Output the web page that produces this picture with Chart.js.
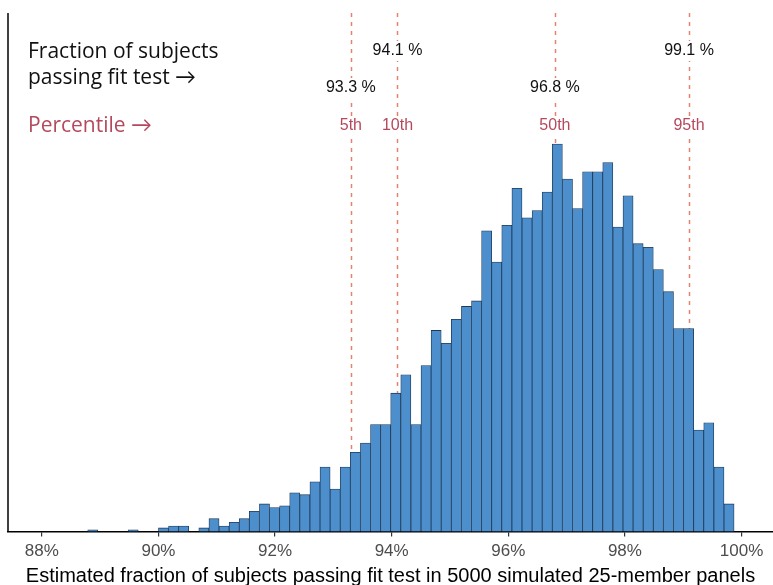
<!DOCTYPE html>
<html>
<head>
<meta charset="utf-8">
<script src="https://cdn.jsdelivr.net/npm/chart.js@4"></script>
<style>
  body { margin: 0; background: #fff; }
  #wrap { width: 773px; height: 585px; }
</style>
</head>
<body>
<div id="wrap"><canvas id="myChart" width="773" height="585"></canvas></div>
<script>
// bin centres (fraction passing, %), bin width ~0.173 %
const binCenters = [
  88.874, 89.047, 89.221, 89.394, 89.567, 89.740, 89.913,
  90.087, 90.260, 90.433, 90.606, 90.779, 90.953, 91.126, 91.299, 91.472, 91.645,
  91.819, 91.992, 92.165, 92.338, 92.511, 92.685, 92.858, 93.031, 93.204, 93.377,
  93.551, 93.724, 93.897, 94.070, 94.243, 94.417, 94.590, 94.763, 94.936, 95.109,
  95.283, 95.456, 95.629, 95.802, 95.975, 96.149, 96.322, 96.495, 96.668, 96.841,
  97.015, 97.188, 97.361, 97.534, 97.707, 97.881, 98.054, 98.227, 98.400, 98.573,
  98.747, 98.920, 99.093, 99.266, 99.439, 99.613, 99.786
];
// number of simulated panels in each bin
const counts = [
  1, 0, 0, 0, 1, 0, 0,
  2, 3, 3, 0, 2, 7, 3, 5, 7, 11,
  15, 13, 14, 21, 20, 27, 35, 23, 35, 43,
  48, 58, 58, 75, 85, 58, 90, 109, 102, 115,
  122, 125, 163, 146, 166, 186, 170, 174, 184, 210,
  191, 175, 195, 195, 200, 165, 182, 156, 154, 142,
  130, 110, 110, 55, 59, 35, 15
];
const tickValues = [88, 90, 92, 94, 96, 98, 100];

const percentileValues = [93.3, 94.1, 96.8, 99.1];
const percentileNames = ['5th', '10th', '50th', '95th'];
const percentileLabels = ['93.3 %', '94.1 %', '96.8 %', '99.1 %'];

const rose = '#b5485c';
const dashColor = '#e2826f';
const labelFont = '16px "Liberation Sans", Arial, sans-serif';

function labelWithBg(c, text, x, y, font, color) {
  c.font = font;
  const w = c.measureText(text).width;
  c.fillStyle = '#fff';
  c.fillRect(x - w / 2 - 2, y - 10, w + 4, 20);
  c.fillStyle = color;
  c.textAlign = 'center';
  c.textBaseline = 'middle';
  c.fillText(text, x, y);
}

const percentilePlugin = {
  id: 'percentiles',
  beforeDatasetsDraw(chart) {
    const c = chart.ctx;
    const area = chart.chartArea;
    const xs = chart.scales.x;
    c.save();
    // dashed percentile lines, behind the bars
    c.strokeStyle = dashColor;
    c.lineWidth = 1.5;
    c.setLineDash([4, 5]);
    percentileValues.forEach(v => {
      const px = Math.round(xs.getPixelForValue(v)) + 0.5;
      c.beginPath();
      c.moveTo(px, area.top);
      c.lineTo(px, area.bottom);
      c.stroke();
    });
    c.setLineDash([]);
    // left axis line
    c.strokeStyle = '#000';
    c.lineWidth = 1.5;
    c.beginPath();
    c.moveTo(area.left, area.top);
    c.lineTo(area.left, area.bottom);
    c.stroke();
    c.restore();
  },
  afterDatasetsDraw(chart) {
    const c = chart.ctx;
    const xs = chart.scales.x;
    c.save();
    percentileValues.forEach((v, i) => {
      const px = xs.getPixelForValue(v);
      const rowY = i % 2 === 0 ? 88 : 51;
      labelWithBg(c, percentileLabels[i], px, rowY, labelFont, '#111');
      labelWithBg(c, percentileNames[i], px, 126, labelFont, rose);
    });
    // side notes
    c.textAlign = 'left';
    c.textBaseline = 'middle';
    c.font = '21px "Open Sans", Lato, sans-serif';
    c.fillStyle = '#111';
    c.fillText('Fraction of subjects', 28, 52);
    c.fillText('passing fit test \u2192', 28, 78);
    c.fillStyle = rose;
    c.fillText('Percentile \u2192', 28, 126);
    c.restore();
  }
};

const ctx = document.getElementById('myChart');

new Chart(ctx, {
  type: 'bar',
  data: {
    datasets: [{
      data: binCenters.map((b, i) => ({ x: b, y: counts[i] })),
      backgroundColor: '#4d8fcd',
      borderColor: '#1e3a58',
      borderWidth: 0.8,
      borderSkipped: 'start',
      barPercentage: 1,
      categoryPercentage: 1
    }]
  },
  options: {
    responsive: false,
    devicePixelRatio: 1,
    animation: false,
    layout: { padding: { left: 8, top: 13, right: 0, bottom: 0 } },
    plugins: {
      legend: { display: false },
      tooltip: { enabled: false }
    },
    scales: {
      x: {
        type: 'linear',
        min: 87.42,
        max: 100.54,
        offset: false,
        afterBuildTicks: s => { s.ticks = tickValues.map(v => ({ value: v })); },
        grid: {
          offset: false,
          drawOnChartArea: false,
          drawTicks: true,
          tickLength: 5,
          color: '#333',
          lineWidth: 1.2
        },
        border: { display: true, color: '#000', width: 1.5 },
        ticks: {
          callback: v => v + '%',
          color: '#4d4d4d',
          font: { family: '"Liberation Sans", Arial, sans-serif', size: 17 },
          padding: 5,
          maxRotation: 0,
          autoSkip: false
        },
        title: {
          display: true,
          text: 'Estimated fraction of subjects passing fit test in 5000 simulated 25-member panels',
          color: '#000',
          font: { family: '"Liberation Sans", Arial, sans-serif', size: 20, lineHeight: 0.9 },
          padding: { top: 0, bottom: 0 }
        }
      },
      y: {
        display: false,
        min: 0,
        max: 281
      }
    }
  },
  plugins: [percentilePlugin]
});
</script>
</body>
</html>
